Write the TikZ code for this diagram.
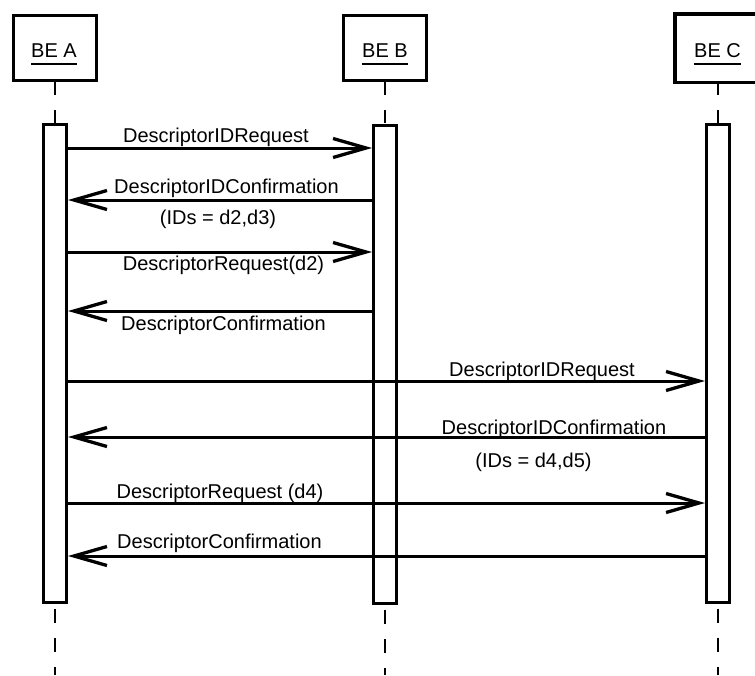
\documentclass[tikz,border=0pt]{standalone}
\usepackage{fontspec}
\setmainfont{Liberation Sans}
\usetikzlibrary{arrows.meta}
\begin{document}
\begin{tikzpicture}[x=1pt,y=-1pt,
  font=\fontsize{20}{24}\selectfont,
  headbox/.style={draw,line width=3.5pt,minimum width=83pt,minimum height=65pt,inner sep=0pt},
  headtext/.style={inner sep=0pt,anchor=base},
  uline/.style={line width=1.6pt},
  actbar/.style={draw,line width=3pt,minimum width=23pt,minimum height=478pt,inner sep=0pt,fill=white},
  life/.style={line width=1.6pt,dash pattern=on 13pt off 15pt},
  lifelow/.style={line width=1.6pt,dash pattern=on 14pt off 15pt},
  msg/.style={line width=3pt,-{Straight Barb[length=33pt,width=19pt,line width=3.3pt]}},
  lbl/.style={inner sep=0pt,anchor=base}]
\useasboundingbox (0,0) rectangle (755,675);
\clip (0,0) rectangle (755,675);

% participant heads (the third one runs off the right edge)
\node[headbox] (hA) at (55,48) {};
\node[headbox] (hB) at (385,48) {};
\node[headbox,draw=none] (hC) at (718,48) {};
\draw[line width=3.5pt,line join=miter]
  ([xshift=20pt]hC.north east) -- (hC.north west) -- (hC.south west) -- ([xshift=20pt]hC.south east);
\node[headtext] (tA) at (54,57) {BE A};
\node[headtext] (tB) at (385,57) {BE B};
\node[headtext] (tC) at (717.5,57) {BE C};
\foreach \t in {tA,tB,tC}
  \draw[uline] ([yshift=-7pt]\t.base west) -- ([yshift=-7pt]\t.base east);

% activation bars
\node[actbar] (barA) at (55,363.5) {};
\node[actbar] (barB) at (385,364.5) {};
\node[actbar] (barC) at (718,363) {};

% lifelines
\coordinate (bottom) at (0,675);
\foreach \h/\b in {hA/barA,hB/barB,hC/barC}{
  \draw[life] (\h.south -| \b.north) -- (\b.north);
  \draw[lifelow] ([yshift=-5pt]\b.south) -- (\b.south |- bottom);
}

% message rows
\coordinate (m1) at (0,148);
\coordinate (m2) at (0,200);
\coordinate (m3) at (0,252);
\coordinate (m4) at (0,311);
\coordinate (m5) at (0,381);
\coordinate (m6) at (0,437);
\coordinate (m7) at (0,503);
\coordinate (m8) at (0,556);

\draw[msg] (barA.east |- m1) -- (barB.west |- m1);
\draw[msg] (barB.west |- m2) -- (barA.east |- m2);
\draw[msg] (barA.east |- m3) -- (barB.west |- m3);
\draw[msg] (barB.west |- m4) -- (barA.east |- m4);
\draw[msg] (barA.east |- m5) -- (barC.west |- m5);
\draw[msg] (barC.west |- m6) -- (barA.east |- m6);
\draw[msg] (barA.east |- m7) -- (barC.west |- m7);
\draw[msg] (barC.west |- m8) -- (barA.east |- m8);

% message labels
\node[lbl] (l1) at (216,142) {DescriptorIDRequest};
\node[lbl] (l2) at (226.5,193) {DescriptorIDConfirmation};
\node[lbl] (l2b) at (218,224) {(IDs = d2,d3)};
\node[lbl] (l3) at (223.5,270) {DescriptorRequest(d2)};
\node[lbl] (l4) at (223.5,330) {DescriptorConfirmation};
\node[lbl] (l5) at (542,376) {DescriptorIDRequest};
\node[lbl] (l6) at (554,434) {DescriptorIDConfirmation};
\node[lbl] (l6b) at (533.5,467) {(IDs = d4,d5)};
\node[lbl] (l7) at (220,498) {DescriptorRequest (d4)};
\node[lbl] (l8) at (219.5,548) {DescriptorConfirmation};
\end{tikzpicture}
\end{document}
